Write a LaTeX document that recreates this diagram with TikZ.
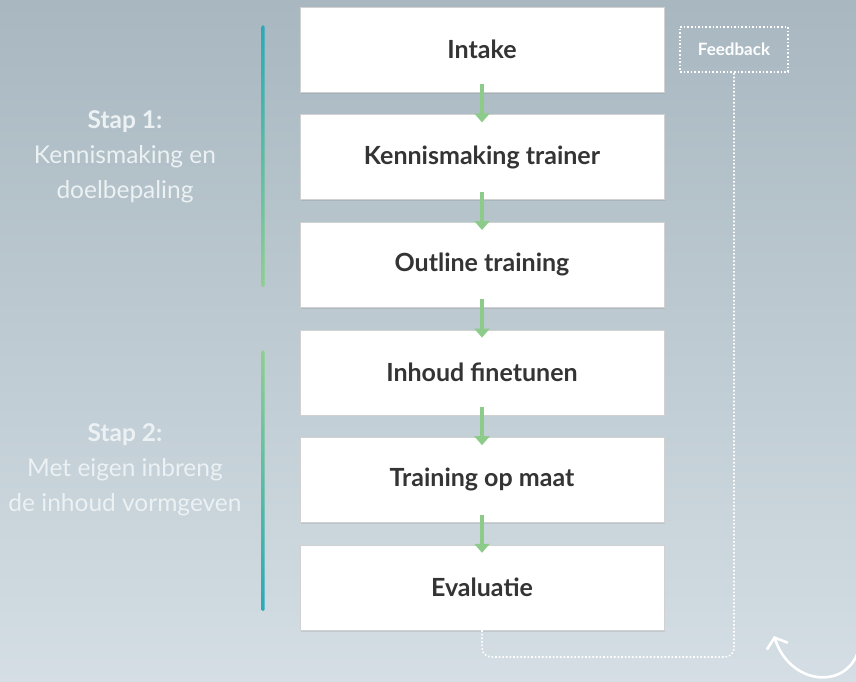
\documentclass[tikz,border=0pt]{standalone}
\usepackage{fontspec}
\setmainfont{Lato}
\usetikzlibrary{positioning,arrows.meta,shadows}
\definecolor{bgtop}{RGB}{168,183,192}
\definecolor{bgbottom}{RGB}{212,222,228}
\definecolor{arrowgreen}{RGB}{141,203,138}
\definecolor{lineteal}{RGB}{42,169,185}
\definecolor{linegreen}{RGB}{142,208,143}
\definecolor{labeltext}{RGB}{52,52,52}
\definecolor{softwhite}{RGB}{236,241,243}
\tikzstyle{stepbox} = [draw=black!18, fill=white, rectangle, minimum width=364pt, minimum height=85pt, text=labeltext, font=\fontsize{25}{28}\selectfont\bfseries, drop shadow={shadow xshift=1pt, shadow yshift=-1.5pt, opacity=0.2}]
\tikzstyle{line} = [draw=arrowgreen, line width=4pt, -{Triangle[width=15pt,length=9pt]}]
\tikzstyle{fbbox} = [draw=white, dotted, line width=1.6pt, rectangle, minimum width=108pt, minimum height=45pt, text=white, font=\fontsize{17}{20}\selectfont\bfseries]
\tikzstyle{fbline} = [draw=white, dotted, line width=1.6pt, rounded corners=9pt]
\tikzstyle{phase} = [text=softwhite, align=center, font=\fontsize{24.5}{35}\selectfont]

\begin{document}
\begin{tikzpicture}[x=1pt, y=1pt, node distance=107.6pt]
    % Background
    \shade[top color=bgtop, bottom color=bgbottom] (0,0) rectangle (856,-681);
    \useasboundingbox (0,0) rectangle (856,-681);

    % Place nodes
    \node [stepbox] (intake) at (482,-49.5) {Intake};
    \node [stepbox, below of=intake] (kennismaking) {Kennismaking trainer};
    \node [stepbox, below of=kennismaking] (outline) {Outline training};
    \node [stepbox, below of=outline] (inhoud) {Inhoud finetunen};
    \node [stepbox, below of=inhoud] (training) {Training op maat};
    \node [stepbox, below of=training] (evaluatie) {Evaluatie};
    \node [fbbox] (feedback) at (734,-49.5) {Feedback};

    % Phase labels
    \node [phase] (stap1) at (125,-157) {{\bfseries Stap 1:}\\Kennismaking en\\doelbepaling};
    \node [phase] (stap2) at (125,-470) {{\bfseries Stap 2:}\\Met eigen inbreng\\de inhoud vormgeven};
    \shade [top color=lineteal, bottom color=linegreen, rounded corners=1.5pt]
        (261.5,-25) rectangle (264.5,-287);
    \shade [top color=linegreen, bottom color=lineteal, rounded corners=1.5pt]
        (261.5,-350) rectangle (264.5,-611);

    % Draw edges
    \path [line] ([yshift=8pt]intake.south) -- ([yshift=-8pt]kennismaking.north);
    \path [line] ([yshift=8pt]kennismaking.south) -- ([yshift=-8pt]outline.north);
    \path [line] ([yshift=8pt]outline.south) -- ([yshift=-8pt]inhoud.north);
    \path [line] ([yshift=8pt]inhoud.south) -- ([yshift=-8pt]training.north);
    \path [line] ([yshift=8pt]training.south) -- ([yshift=-8pt]evaluatie.north);

    % Feedback loop
    \coordinate (loop) at (feedback.south |- 0,-657);
    \path [fbline] (evaluatie.south) |- (loop) -- (feedback.south);

    % Curved arrow in the corner
    \draw [white, line width=2.6pt, line cap=round, -{Straight Barb[length=9pt,width=22pt,line width=2.6pt]}]
        (858,-652) .. controls (845,-690) and (790,-685) .. (774,-636);
\end{tikzpicture}
\end{document}
